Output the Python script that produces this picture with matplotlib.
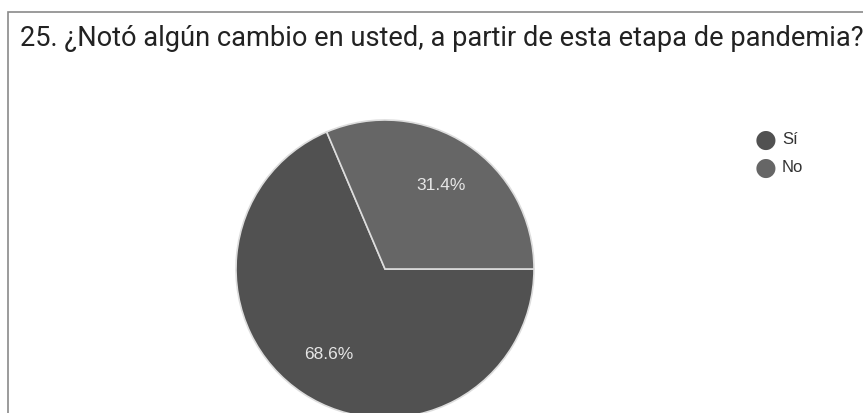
import matplotlib.pyplot as plt
from matplotlib.patches import Rectangle

labels = ['Sí', 'No']
values = [68.6, 31.4]
colors = ['#515151', '#666666']

W, H = 863, 414
fig = plt.figure(figsize=(W / 100, H / 100), dpi=100)
fig.patch.set_facecolor('white')

# card border (bottom and right run off the picture)
fig.patches.append(Rectangle((8 / W, -0.1), 1.2, (H - 13) / H + 0.1, transform=fig.transFigure,
                             facecolor='white', edgecolor='#8a8a8a', linewidth=1.2, zorder=-5))

fig.text(20 / W, 1 - 38 / H, '25. ¿Notó algún cambio en usted, a partir de esta etapa de pandemia?',
         fontsize=19.6, color='#222222', va='center', ha='left', family='Roboto')

cx, cy, r = 385, 270, 149
size = 300
ax = fig.add_axes([(cx - size / 2) / W, (H - cy - size / 2) / H, size / W, size / H])
wedges, texts, autotexts = ax.pie(values, colors=colors, startangle=360 * values[1] / 100,
                                  counterclock=True, autopct='%1.1f%%', pctdistance=0.68,
                                  wedgeprops=dict(edgecolor='#dddddd', linewidth=1.2),
                                  textprops=dict(color='#e6e6e6', fontsize=12.5, family='Liberation Sans'))
lim = size / 2 / r
ax.set_xlim(-lim, lim)
ax.set_ylim(-lim, lim)
ax.set_aspect('equal')
for w in wedges:
    w.set_clip_on(False)

for i, lab in enumerate(labels):
    y = 1 - (140 + 28 * i) / H
    fig.text(766 / W, y, '\u25CF', color=colors[i], fontsize=18, ha='center', va='center')
    fig.text(782 / W, y, lab, color='#333333', fontsize=12, ha='left', va='center',
             family='Liberation Sans')

fig.savefig('out.png', dpi=100)
